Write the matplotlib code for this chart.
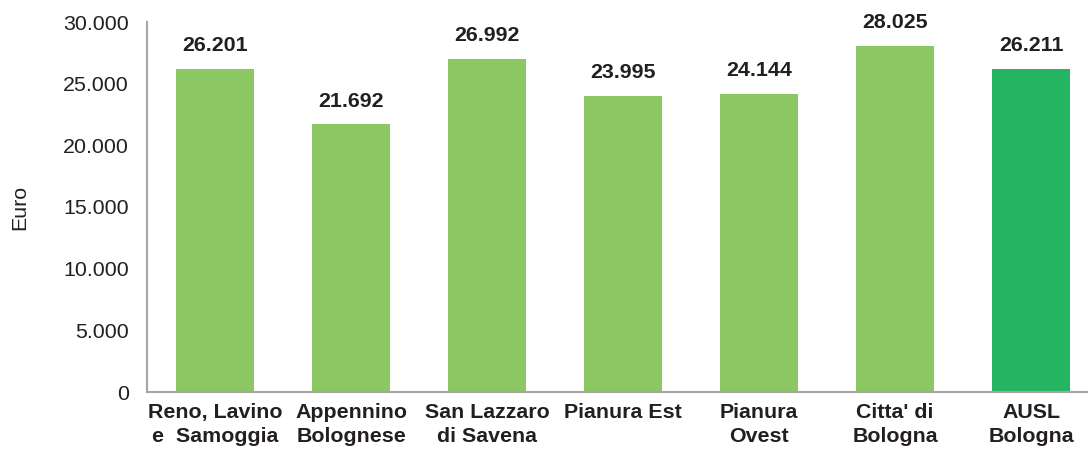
import matplotlib
matplotlib.use("Agg")
import matplotlib.pyplot as plt
from matplotlib.ticker import FuncFormatter

plt.rcParams["font.family"] = ["Liberation Sans", "DejaVu Sans"]

districts = [
    "Reno, Lavino\ne  Samoggia",
    "Appennino\nBolognese",
    "San Lazzaro\ndi Savena",
    "Pianura Est",
    "Pianura\nOvest",
    "Citta' di\nBologna",
    "AUSL\nBologna",
]
values = [26201, 21692, 26992, 23995, 24144, 28025, 26211]
bar_colors = ["#8cc764"] * 6 + ["#25b462"]
y_ticks = [0, 5000, 10000, 15000, 20000, 25000, 30000]

text_color = "#231f20"
fs = 15.4


def fmt_it(v, _pos=None):
    return f"{int(round(v)):,}".replace(",", ".")


fig = plt.figure(figsize=(10.88, 4.57), dpi=100)
ax = fig.add_axes([147 / 1088, 65 / 457, 952 / 1088, 370 / 457])

x = range(len(values))
ax.bar(x, values, width=0.575, color=bar_colors)

for xi, v in zip(x, values):
    ax.annotate(fmt_it(v), (xi, v), xytext=(0, 10), textcoords="offset points",
                ha="center", va="bottom", fontsize=fs, fontweight="bold", color=text_color)

ax.set_xlim(-0.5, len(values) - 0.5)
ax.set_ylim(0, 30000)
ax.set_yticks(y_ticks)
ax.yaxis.set_major_formatter(FuncFormatter(fmt_it))
ax.set_xticks(list(x))
ax.set_xticklabels(districts, fontweight="bold", linespacing=1.35)

ax.tick_params(axis="both", length=0, labelsize=fs, labelcolor=text_color)
ax.tick_params(axis="x", pad=8)
ax.tick_params(axis="y", pad=13)

for side in ("top", "right"):
    ax.spines[side].set_visible(False)
for side in ("left", "bottom"):
    ax.spines[side].set_color("#a6a6a6")
    ax.spines[side].set_linewidth(1.5)

ax.set_ylabel("Euro", fontsize=fs, color=text_color, labelpad=24)

fig.savefig("out.png", dpi=100)
